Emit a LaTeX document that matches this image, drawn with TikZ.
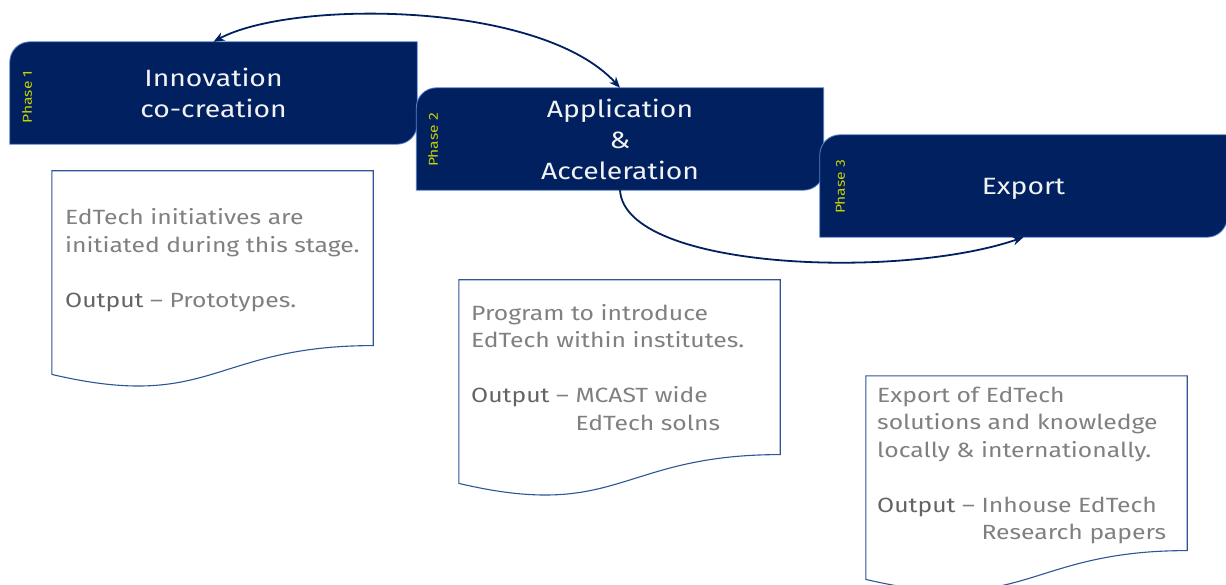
\documentclass[tikz,border=0pt]{standalone}
\usepackage{fontspec}
\setmainfont{Fira Sans}
\newfontfamily\widefont[FakeStretch=1.2]{Fira Sans}
\usetikzlibrary{arrows.meta,calc,backgrounds}
\definecolor{navy}{RGB}{0,32,96}
\definecolor{boxedge}{RGB}{84,130,205}
\definecolor{phasecol}{RGB}{200,210,0}
\definecolor{docedge}{RGB}{47,85,151}
\definecolor{doctxt}{RGB}{128,128,128}
\definecolor{outtxt}{RGB}{100,100,100}
\definecolor{maintxt}{RGB}{242,242,242}
\tikzset{
  phasebox/.style={minimum width=407pt, minimum height=102pt, inner sep=0pt, align=center,
    text=maintxt, font=\widefont\fontsize{23.6}{31}\selectfont},
  phaselabel/.style={rotate=90, text=phasecol, font=\widefont\fontsize{13}{15}\selectfont, inner sep=0pt},
  boxshape/.style={fill=navy, draw=boxedge, line width=0.8pt},
  docnode/.style={minimum width=321pt, minimum height=218pt, inner sep=0pt},
  docshape/.style={fill=white, draw=docedge, line width=1.1pt},
  doctext/.style={anchor=base west, inner sep=0pt, text=doctxt,
    font=\widefont\fontsize{20.6}{27.5}\selectfont},
  conn/.style={draw=navy, line width=1.8pt, -{Stealth[length=11pt,width=9pt]}},
}
\newcommand\outw{\textcolor{outtxt}{Output}}
\newcommand\blankln{\vskip27.5pt}
\begin{document}
\begin{tikzpicture}[x=1pt,y=-1pt]
\useasboundingbox (0,0) rectangle (1226,585);
% phase boxes
\node[phasebox] (p1) at (213.5,93) {Innovation\\co-creation};
\node[phasebox] (p2) at (620,139) {Application\\\&\\Acceleration};
\node[phasebox] (p3) at (1023.5,186) {\raisebox{-9pt}[0pt][0pt]{Export}};
\node[phaselabel] (l1) at (27,97) {Phase 1};
\node[phaselabel] (l2) at (433,140) {Phase 2};
\node[phaselabel] (l3) at (840,187) {Phase 3};
\begin{scope}[on background layer]
\foreach \n in {p1,p2,p3}{
  \path[boxshape] (\n.south west) -- ($(\n.north west)+(0,20)$)
    .. controls ($(\n.north west)+(0,9)$) and ($(\n.north west)+(9,0)$) .. ($(\n.north west)+(20,0)$)
    -- (\n.north east) -- ($(\n.south east)+(0,-20)$)
    .. controls ($(\n.south east)+(0,-9)$) and ($(\n.south east)+(-9,0)$) .. ($(\n.south east)+(-20,0)$) -- cycle;
}
\end{scope}
% documents
\node[docnode] (d1) at (212.5,280) {};
\node[docnode] (d2) at (619.5,389) {};
\node[docnode] (d3) at (1026.5,485) {};
\foreach \n in {d1,d2,d3}{
  \path[docshape] (\n.north west) -- (\n.north east) -- ($(\n.north east)+(0,174.8)$)
    .. controls ($(\n.north west)+(160.5,174.8)$) and ($(\n.north west)+(160.5,241.4)$) .. ($(\n.north west)+(0,203.6)$) -- cycle;
}
\node[doctext] (t1) at (65,225) {\vtop{\hbox{EdTech initiatives are}\hbox{initiated during this stage.}\blankln
  \hbox{\outw{} – Prototypes.}}};
\node[doctext] (t2) at (471,320) {\vtop{\hbox{Program to introduce}\hbox{EdTech within institutes.}\blankln
  \hbox{\outw{} – MCAST wide}\hbox{\hphantom{Output – }EdTech solns}}};
\node[doctext] (t3) at (877,402) {\vtop{\hbox{Export of EdTech}\hbox{solutions and knowledge}\hbox{locally \& internationally.}\blankln
  \hbox{\outw{} – Inhouse EdTech}\hbox{\hphantom{Output – }Research papers}}};
% connectors
\draw[conn, {Stealth[length=11pt,width=9pt]}-{Stealth[length=11pt,width=9pt]}] (p1.north) .. controls (290,0) and (540,0) .. (p2.north);
\draw[conn] (p2.south) .. controls (625,270) and (900,280) .. (p3.south);
\end{tikzpicture}
\end{document}
